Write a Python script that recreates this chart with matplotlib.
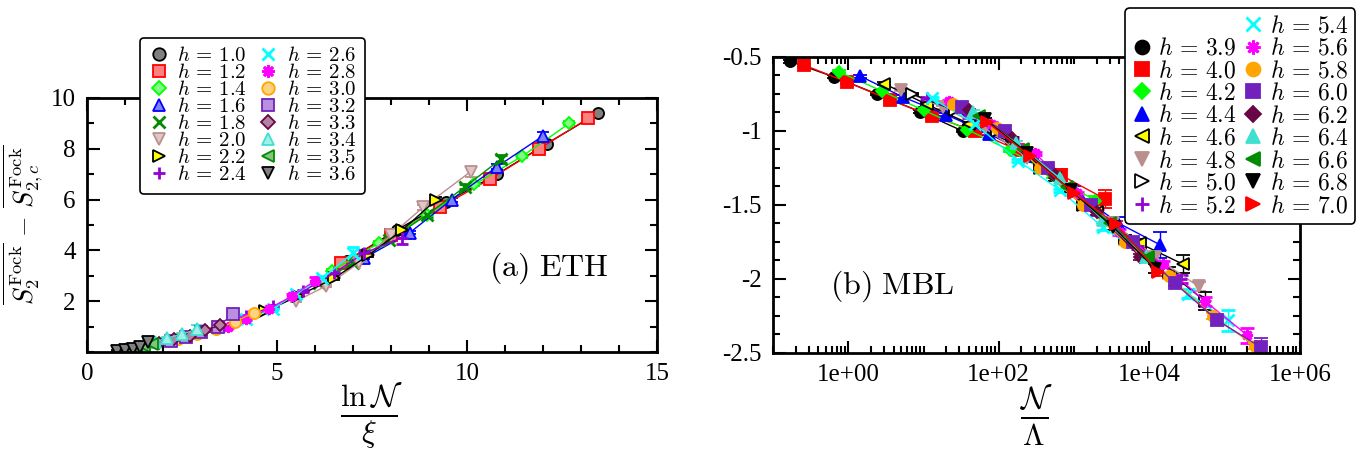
import matplotlib
matplotlib.use("Agg")
import matplotlib.pyplot as plt
import numpy as np
from matplotlib.lines import Line2D
from matplotlib.ticker import MultipleLocator, FixedLocator, FuncFormatter
from matplotlib.colors import to_rgb

plt.rcParams["mathtext.fontset"] = "cm"
plt.rcParams["font.family"] = ["Liberation Serif", "DejaVu Serif"]
plt.rcParams["axes.unicode_minus"] = False

# ---------------- data: (a) ETH ----------------
eth_h = ["1.0", "1.2", "1.4", "1.6", "1.8", "2.0", "2.2", "2.4",
         "2.6", "2.8", "3.0", "3.2", "3.3", "3.4", "3.5", "3.6"]
eth_x = [
    [6.85, 8.15, 9.45, 10.8, 12.1, 13.45],
    [6.7, 8.0, 9.3, 10.6, 11.9, 13.2],
    [6.45, 7.7, 8.95, 10.2, 11.45, 12.7],
    [7.3, 8.5, 9.6, 10.8, 12.0],
    [6.1, 7.0, 7.95, 8.95, 9.95, 10.9],
    [5.5, 6.3, 7.15, 8.0, 8.85, 10.1],
    [4.7, 5.55, 6.5, 7.4, 8.3, 9.2],
    [4.2, 4.9, 5.7, 6.5, 7.3, 8.3],
    [4.2, 4.9, 5.5, 6.2, 7.0],
    [3.7, 4.2, 4.8, 5.4, 6.0],
    [2.4, 2.9, 3.4, 3.9, 4.4],
    [2.2, 2.6, 3.0, 3.45, 3.85],
    [1.9, 2.3, 2.7, 3.1, 3.5],
    [1.5, 1.8, 2.1, 2.5, 2.9],
    [0.9, 1.1, 1.3, 1.5, 1.7],
    [0.8, 1.0, 1.2, 1.4, 1.6],
]
eth_y = [
    [3.6, 4.8, 5.9, 7.0, 8.2, 9.4],
    [3.5, 4.6, 5.7, 6.8, 8.0, 9.2],
    [3.2, 4.3, 5.4, 6.6, 7.7, 9.0],
    [3.7, 4.7, 6.0, 7.3, 8.5],
    [2.7, 3.5, 4.4, 5.4, 6.5, 7.6],
    [2.0, 2.6, 3.5, 4.6, 5.7, 7.1],
    [1.6, 2.2, 2.9, 3.8, 4.8, 6.0],
    [1.4, 1.8, 2.4, 3.1, 3.9, 4.5],
    [1.3, 1.7, 2.3, 2.9, 3.9],
    [1.0, 1.3, 1.7, 2.2, 2.8],
    [0.5, 0.7, 0.9, 1.2, 1.55],
    [0.45, 0.6, 0.8, 1.0, 1.5],
    [0.35, 0.5, 0.65, 0.85, 1.05],
    [0.3, 0.4, 0.55, 0.7, 0.9],
    [0.1, 0.13, 0.17, 0.22, 0.3],
    [0.05, 0.08, 0.12, 0.18, 0.4],
]
eth_err = [
    [0.05, 0.05, 0.05, 0.05, 0.05, 0.05],
    [0.05, 0.05, 0.05, 0.05, 0.05, 0.05],
    [0.05, 0.05, 0.05, 0.05, 0.05, 0.08],
    [0.05, 0.05, 0.08, 0.1, 0.15],
    [0.05, 0.05, 0.05, 0.1, 0.1, 0.15],
    [0.05, 0.05, 0.05, 0.05, 0.1, 0.2],
    [0.05, 0.05, 0.05, 0.05, 0.08, 0.1],
    [0.05, 0.05, 0.05, 0.05, 0.1, 0.25],
    [0.05, 0.05, 0.05, 0.1, 0.25],
    [0.05, 0.05, 0.05, 0.1, 0.15],
    [0.05, 0.05, 0.05, 0.05, 0.08],
    [0.05, 0.05, 0.05, 0.05, 0.2],
    [0.05, 0.05, 0.05, 0.05, 0.05],
    [0.05, 0.05, 0.05, 0.05, 0.15],
    [0.03, 0.03, 0.03, 0.03, 0.05],
    [0.03, 0.03, 0.03, 0.03, 0.15],
]

# ---------------- data: (b) MBL ----------------
mbl_h = ["3.9", "4.0", "4.2", "4.4", "4.6", "4.8", "5.0", "5.2", "5.4",
         "5.6", "5.8", "6.0", "6.2", "6.4", "6.6", "6.8", "7.0"]
mbl_x = [
    [0.17, 0.65, 2.4, 9, 33],
    [0.26, 0.97, 3.6, 13, 48, 180, 680, 2600],
    [0.75, 2.8, 10, 38, 140, 520, 1900],
    [1.45, 5.3, 20, 75, 280, 1000, 3800, 14000],
    [3, 11, 40, 150, 550, 2000, 7500, 28000],
    [5, 18, 65, 240, 900, 3300, 12000, 45000],
    [7, 26, 95, 350, 1300, 4800, 18000, 55000],
    [11, 40, 150, 550, 2000, 7000, 26000],
    [13, 48, 180, 650, 2400, 9000, 33000, 110000],
    [22, 80, 300, 1100, 4000, 15000, 55000, 200000],
    [25, 95, 350, 1300, 4800, 18000, 70000, 250000],
    [32, 120, 450, 1700, 6000, 22000, 80000, 300000],
    [40, 150, 550, 2000, 7500],
    [45, 170, 650, 2400, 9000],
    [55, 210, 800, 3000, 9500],
    [65, 240, 900, 3300, 12000],
    [70, 260, 1000, 3600, 13000],
]
mbl_y = [
    [-0.53, -0.635, -0.75, -0.87, -1.0],
    [-0.555, -0.67, -0.79, -0.9, -1.0, -1.13, -1.30, -1.46],
    [-0.6, -0.73, -0.86, -0.99, -1.13, -1.30, -1.47],
    [-0.63, -0.77, -0.89, -1.02, -1.17, -1.40, -1.62, -1.77],
    [-0.68, -0.82, -0.95, -1.08, -1.32, -1.55, -1.76, -1.9],
    [-0.72, -0.84, -0.98, -1.18, -1.40, -1.62, -1.85, -2.05],
    [-0.75, -0.86, -1.0, -1.25, -1.50, -1.72, -1.95, -2.15],
    [-0.78, -0.9, -1.05, -1.3, -1.55, -1.78, -2.0],
    [-0.78, -0.95, -1.2, -1.4, -1.65, -1.85, -2.1, -2.28],
    [-0.8, -0.95, -1.15, -1.42, -1.68, -1.9, -2.15, -2.38],
    [-0.82, -0.98, -1.25, -1.5, -1.75, -1.98, -2.25, -2.45],
    [-0.84, -1.0, -1.25, -1.5, -1.75, -2.03, -2.28, -2.46],
    [-0.86, -1.05, -1.3, -1.55, -1.85],
    [-0.87, -1.08, -1.32, -1.6, -1.85],
    [-0.9, -1.12, -1.38, -1.62, -1.85],
    [-0.92, -1.15, -1.40, -1.65, -1.93],
    [-0.94, -1.17, -1.42, -1.63, -1.95],
]
mbl_err = [
    [0.01, 0.01, 0.01, 0.01, 0.01],
    [0.01, 0.01, 0.01, 0.01, 0.01, 0.02, 0.04, 0.06],
    [0.01, 0.01, 0.01, 0.01, 0.01, 0.02, 0.03],
    [0.01, 0.01, 0.01, 0.01, 0.02, 0.03, 0.04, 0.09],
    [0.01, 0.01, 0.01, 0.01, 0.02, 0.02, 0.03, 0.06],
    [0.01, 0.01, 0.01, 0.01, 0.02, 0.02, 0.03, 0.03],
    [0.01, 0.01, 0.01, 0.01, 0.02, 0.02, 0.03, 0.06],
    [0.01, 0.01, 0.01, 0.01, 0.02, 0.02, 0.03],
    [0.01, 0.01, 0.01, 0.01, 0.02, 0.03, 0.03, 0.07],
    [0.01, 0.01, 0.01, 0.01, 0.02, 0.02, 0.03, 0.05],
    [0.01, 0.01, 0.01, 0.01, 0.02, 0.02, 0.02, 0.02],
    [0.01, 0.01, 0.01, 0.01, 0.02, 0.02, 0.03, 0.06],
    [0.01, 0.01, 0.01, 0.02, 0.02],
    [0.01, 0.01, 0.01, 0.02, 0.02],
    [0.01, 0.01, 0.01, 0.02, 0.02],
    [0.01, 0.01, 0.01, 0.02, 0.03],
    [0.01, 0.01, 0.02, 0.02, 0.03],
]

# xmgrace-like symbols: (marker, line colour, face colour, edge colour)
ast = (8, 2, 0)
eth_style = [
    ("o", "black", None, None), ("s", "red", None, None),
    ("D", "#00ff00", None, None), ("^", "blue", None, None),
    ("x", "#008b00", None, None), ("v", "#bc8f8f", None, None),
    (">", "black", "yellow", "black"), ("+", "#9400d3", None, None),
    ("x", "cyan", None, None), (ast, "magenta", None, None),
    ("o", "#ffa500", None, None), ("s", "#7221bc", None, None),
    ("D", "#670748", None, None), ("^", "#40e0d0", None, None),
    ("<", "#008b00", None, None), ("v", "black", None, None),
]
mbl_style = [
    ("o", "black", None, None), ("s", "red", None, None),
    ("D", "#00ff00", None, None), ("^", "blue", None, None),
    ("<", "black", "yellow", "black"), ("v", "#bc8f8f", None, None),
    (">", "black", "white", "black"), ("+", "#9400d3", None, None),
    ("x", "cyan", None, None), (ast, "magenta", None, None),
    ("o", "#ffa500", None, None), ("s", "#7221bc", None, None),
    ("D", "#670748", None, None), ("^", "#40e0d0", None, None),
    ("<", "#008b00", None, None), ("v", "black", None, None),
    (">", "red", None, None),
]


def lighten(c, f=0.5):
    r, g, b = to_rgb(c)
    return (r + (1 - r) * f, g + (1 - g) * f, b + (1 - b) * f)


def marker_kw(style, patterned, ms):
    m, c, fc, ec = style
    if fc is None:
        fc = lighten(c) if patterned else c
        ec = c
    return dict(marker=m, markerfacecolor=fc, markeredgecolor=ec,
                markersize=ms - 2 if m == "D" else ms,
                markeredgewidth=2 if m in ("x", "+", ast) else 1.3)


fig = plt.figure(figsize=(13.58, 4.57), dpi=100)
ax1 = fig.add_axes([0.064, 0.2297, 0.4197, 0.556])
ax2 = fig.add_axes([0.5692, 0.2276, 0.388, 0.6477])

# ---- panel (a)
for i in range(len(eth_h)):
    kw = marker_kw(eth_style[i], True, 8)
    ax1.errorbar(eth_x[i], eth_y[i], yerr=eth_err[i], color=eth_style[i][1],
                 lw=1, elinewidth=1, capsize=4, capthick=1, **kw)
ax1.set_xlim(0, 15)
ax1.set_ylim(0, 10)
ax1.xaxis.set_major_locator(MultipleLocator(5))
ax1.xaxis.set_minor_locator(MultipleLocator(1))
ax1.set_yticks([2, 4, 6, 8, 10])
ax1.yaxis.set_minor_locator(MultipleLocator(1))
ax1.text(0.705, 0.3, r"$\mathrm{(a)\ ETH}$", transform=ax1.transAxes, fontsize=23)
ax1.set_xlabel(r"$\frac{\ln\mathcal{N}}{\xi}$", fontsize=32, labelpad=-3)
ax1.set_ylabel(r"$\overline{S_2^{\rm Fock}}\,-\,\overline{S_{2,c}^{\rm Fock}}$",
               fontsize=19, labelpad=4)

h1 = [Line2D([], [], ls="none", **marker_kw(eth_style[i], True, 9))
      for i in range(len(eth_h))]
leg1 = fig.legend(h1, [r"$h\,=\,%s$" % h for h in eth_h], ncol=2,
                  loc="upper left", bbox_to_anchor=(0.103, 0.917),
                  bbox_transform=fig.transFigure, fontsize=15,
                  handlelength=1.0, handletextpad=0.4, columnspacing=0.5,
                  labelspacing=-0.12, borderpad=0.4, borderaxespad=0,
                  fancybox=True, framealpha=1, edgecolor="black")
leg1.get_frame().set_linewidth(1.2)

# ---- panel (b)
for i in range(len(mbl_h)):
    kw = marker_kw(mbl_style[i], False, 8)
    ax2.errorbar(mbl_x[i], mbl_y[i], yerr=mbl_err[i], color=mbl_style[i][1],
                 lw=1, elinewidth=1, capsize=5, capthick=1, **kw)
ax2.set_xscale("log")
ax2.set_xlim(0.1, 1e6)
ax2.set_ylim(-2.5, -0.5)
ax2.xaxis.set_major_locator(FixedLocator([1e0, 1e2, 1e4, 1e6]))
ax2.xaxis.set_minor_locator(FixedLocator(
    [k * 10.0 ** n for n in range(-1, 6) for k in range(1, 10)
     if not (k == 1 and n % 2 == 0)]))
ax2.xaxis.set_major_formatter(FuncFormatter(lambda v, p: "%.0e" % v))
ax2.xaxis.set_minor_formatter(FuncFormatter(lambda v, p: ""))
ax2.yaxis.set_major_locator(MultipleLocator(0.5))
ax2.yaxis.set_minor_locator(MultipleLocator(0.125))
ax2.yaxis.set_major_formatter(FuncFormatter(lambda v, p: "%g" % v))
ax2.text(0.108, 0.2, r"$\mathrm{(b)\ MBL}$", transform=ax2.transAxes, fontsize=23)
ax2.set_xlabel(r"$\frac{\mathcal{N}}{\Lambda}$", fontsize=32, labelpad=-3)

h2 = [Line2D([], [], ls="none", **marker_kw(mbl_style[i], False, 10))
      for i in range(len(mbl_h))]
blank = Line2D([], [], ls="none", marker=None)
leg2 = fig.legend([blank] + h2, [""] + [r"$h\,=\,%s$" % h for h in mbl_h],
                  ncol=2, loc="upper right", bbox_to_anchor=(0.998, 0.982),
                  bbox_transform=fig.transFigure, fontsize=17,
                  handlelength=0.8, handletextpad=0.3, columnspacing=0.3,
                  labelspacing=0.02, borderpad=0.3, borderaxespad=0,
                  fancybox=True, framealpha=1, edgecolor="black")
leg2.get_frame().set_linewidth(1.2)

for ax in (ax1, ax2):
    for s in ax.spines.values():
        s.set_linewidth(2)
    ax.tick_params(which="both", direction="in", top=True, right=True,
                   labelsize=18, width=1.5)
    ax.tick_params(which="major", length=9, pad=8)
    ax.tick_params(which="minor", length=5)

fig.savefig("out.png", dpi=100)
